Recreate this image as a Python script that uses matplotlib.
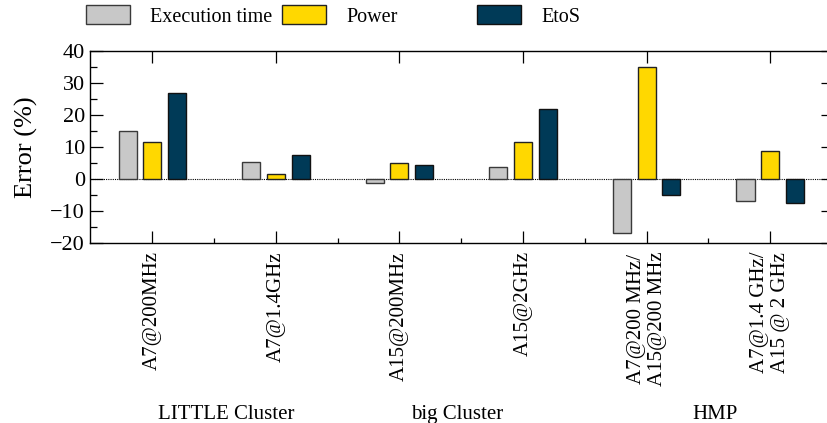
import matplotlib
matplotlib.use("Agg")
import matplotlib.pyplot as plt
import matplotlib.patches as mpatches
from matplotlib.ticker import MultipleLocator, FixedLocator
import numpy as np

plt.rcParams['font.family'] = ['Liberation Serif', 'DejaVu Serif']

categories = ["A7@200MHz", "A7@1.4GHz", "A15@200MHz", "A15@2GHz",
              "A7@200 MHz/\nA15@200 MHz", "A7@1.4 GHz/\nA15 @ 2 GHz"]
series_names = ["Execution time", "Power", "EtoS"]
exec_time = [15.1, 5.3, -1.1, 3.8, -16.8, -7.0]
power = [11.7, 1.7, 4.9, 11.6, 35.1, 8.8]
etos = [26.8, 7.6, 4.4, 21.8, -5.0, -7.6]
groups = ["LITTLE Cluster", "big Cluster", "HMP"]
group_pos = [0.60, 2.47, 4.55]
yticks = [-20, -10, 0, 10, 20, 30, 40]

colors = ["#c8c8c8", "#ffd800", "#003a57"]
edges = ["#3a3a3a", "#222222", "#111111"]

fig = plt.figure(figsize=(8.28, 4.23), dpi=100)
ax = fig.add_axes([90.5/828, 1-243/423, 744/828, 192/423])

x = np.arange(len(categories))
w = 0.146
off = 0.2
for i, (vals, c, ec, name) in enumerate(zip([exec_time, power, etos], colors, edges, series_names)):
    ax.bar(x + (i-1)*off, vals, width=w, color=c, edgecolor=ec, linewidth=1.0, label=name, zorder=3)

ax.axhline(0, color="black", linestyle=(0, (1, 1)), linewidth=0.8, zorder=2)

ax.set_xlim(-0.5, 5.52)
ax.set_ylim(-20, 40)
ax.set_yticks(yticks)
ax.yaxis.set_minor_locator(MultipleLocator(5))
ax.set_xticks(x)
ax.set_xticklabels(categories, rotation=90, fontsize=15, va="top", ha="center",
                   linespacing=1.15)
ax.xaxis.set_minor_locator(FixedLocator(x[:-1] + 0.5))
ax.set_yticklabels([f"{v}".replace("-", "\u2212") for v in yticks], fontsize=16)
ax.tick_params(axis="y", which="major", direction="in", length=9.4, width=0.9, right=True, pad=4)
ax.tick_params(axis="y", which="minor", direction="in", length=4.7, width=0.9, right=False, left=True)
ax.tick_params(axis="x", which="major", direction="in", length=8.6, width=0.9, top=True, pad=6)
ax.tick_params(axis="x", which="minor", direction="in", length=3.8, width=0.9, top=False)
for s in ax.spines.values():
    s.set_linewidth(1.0)
ax.spines['right'].set_visible(False)

ax.set_ylabel("Error (%)", fontsize=19, labelpad=9)

for g, p in zip(groups, group_pos):
    ax.text(p, -0.915, g, transform=ax.get_xaxis_transform(), ha="center", va="baseline", fontsize=15)

# legends
handles = [mpatches.Patch(facecolor=c, edgecolor=ec, linewidth=1.0) for c, ec in zip(colors, edges)]
leg_x = [86/828, 282/828, 477/828]
for h, name, lx in zip(handles, series_names, leg_x):
    fig.legend([h], [name], loc="upper left", bbox_to_anchor=(lx, 1 - 5/423),
               frameon=False, fontsize=14.5, handlelength=2.2, handleheight=1.1,
               handletextpad=1.0, borderpad=0.0, borderaxespad=0.0)

fig.savefig("out.png", dpi=100)
